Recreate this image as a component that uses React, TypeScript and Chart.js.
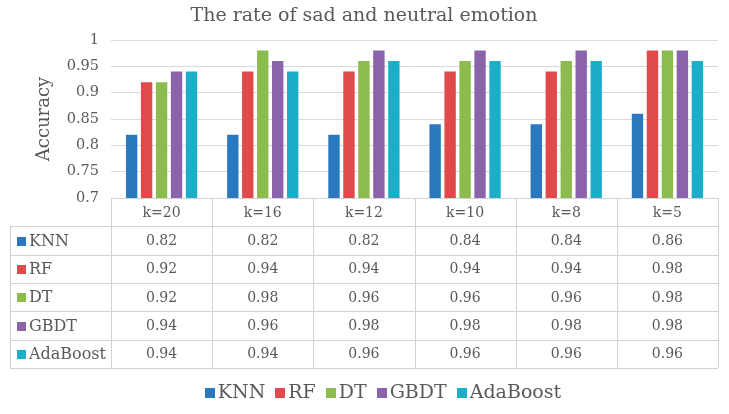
import { useEffect, useRef } from "react";
import { Chart, registerables } from "chart.js";

Chart.register(...registerables);

const categories = ["k=20", "k=16", "k=12", "k=10", "k=8", "k=5"];
const seriesNames = ["KNN", "RF", "DT", "GBDT", "AdaBoost"];
const knnValues = [0.82, 0.82, 0.82, 0.84, 0.84, 0.86];
const rfValues = [0.92, 0.94, 0.94, 0.94, 0.94, 0.98];
const dtValues = [0.92, 0.98, 0.96, 0.96, 0.96, 0.98];
const gbdtValues = [0.94, 0.96, 0.98, 0.98, 0.98, 0.98];
const adaValues = [0.94, 0.94, 0.96, 0.96, 0.96, 0.96];
const yTickValues = [0.7, 0.75, 0.8, 0.85, 0.9, 0.95, 1];
const seriesColors = ["#2B78BE", "#E04A4A", "#8CBB4E", "#8A63AA", "#1CAEC8"];

const FONT = "'DejaVu Serif', serif";
const TEXT = "#595959";
const LINE = "#d2d2d2";

const tablePlugin = {
  id: "dataTable",
  afterDraw(chart: any) {
    const ctx = chart.ctx as CanvasRenderingContext2D;
    const xs = chart.scales.x;
    const area = chart.chartArea;
    const top = area.bottom;
    const bottom = xs.bottom;
    const nRows = chart.data.datasets.length + 1;
    const rowH = (bottom - top) / nRows;
    const left = area.left;
    const right = area.right;
    const labelLeft = 10;
    const n = chart.data.labels.length;
    const colW = (right - left) / n;
    const px = (v: number) => Math.round(v) + 0.5;

    ctx.save();
    ctx.strokeStyle = LINE;
    ctx.lineWidth = 1;
    ctx.beginPath();
    ctx.moveTo(left, px(top));
    ctx.lineTo(right, px(top));
    for (let r = 1; r <= nRows; r++) {
      const y = px(top + r * rowH);
      ctx.moveTo(labelLeft, y);
      ctx.lineTo(right, y);
    }
    for (let c = 0; c <= n; c++) {
      const x = px(left + c * colW);
      ctx.moveTo(x, top);
      ctx.lineTo(x, bottom);
    }
    ctx.moveTo(px(labelLeft), top + rowH);
    ctx.lineTo(px(labelLeft), bottom);
    ctx.stroke();

    ctx.textBaseline = "middle";
    ctx.fillStyle = TEXT;
    ctx.textAlign = "center";
    ctx.font = `14px ${FONT}`;
    (chart.data.labels as string[]).forEach((lab, i) => {
      const cx = xs.getPixelForValue(i);
      ctx.fillText(lab, cx, top + rowH / 2 + 1);
    });
    chart.data.datasets.forEach((ds: any, r: number) => {
      const cy = top + (r + 1) * rowH + rowH / 2 + 1;
      ctx.textAlign = "center";
      ctx.font = `14px ${FONT}`;
      ctx.fillStyle = TEXT;
      ds.data.forEach((v: number, i: number) => {
        ctx.fillText(v.toFixed(2), xs.getPixelForValue(i), cy);
      });
      ctx.fillStyle = ds.backgroundColor;
      ctx.fillRect(17, Math.round(cy - 5), 9, 9);
      ctx.fillStyle = TEXT;
      ctx.textAlign = "left";
      ctx.font = `16px ${FONT}`;
      ctx.fillText(ds.label, 29, cy);
    });

    // legend
    ctx.font = `19px ${FONT}`;
    const box = 10;
    const gap = 3;
    const itemGap = 10;
    const widths = chart.data.datasets.map(
      (ds: any) => box + gap + ctx.measureText(ds.label).width
    );
    const total =
      widths.reduce((a: number, b: number) => a + b, 0) +
      itemGap * (widths.length - 1);
    let x = 383 - total / 2;
    const ly = 393;
    chart.data.datasets.forEach((ds: any, i: number) => {
      ctx.fillStyle = ds.backgroundColor;
      ctx.fillRect(Math.round(x), ly - 5, box, box);
      ctx.fillStyle = TEXT;
      ctx.textAlign = "left";
      ctx.fillText(ds.label, x + box + gap, ly);
      x += widths[i] + itemGap;
    });
    ctx.restore();
  },
};

export default function App() {
  const ref = useRef<HTMLCanvasElement | null>(null);
  useEffect(() => {
    if (!ref.current) return;
    const seriesValues = [knnValues, rfValues, dtValues, gbdtValues, adaValues];
    const chart = new Chart(ref.current, {
      type: "bar",
      data: {
        labels: categories,
        datasets: seriesNames.map((name, i) => ({
          label: name,
          data: seriesValues[i],
          backgroundColor: seriesColors[i],
          borderWidth: 0,
          categoryPercentage: 0.74,
          barPercentage: 0.76,
        })),
      },
      options: {
        responsive: false,
        animation: false,
        layout: { padding: { left: 10, right: 11, top: 0, bottom: 46 } },
        plugins: {
          legend: { display: false },
          tooltip: { enabled: false },
          title: {
            display: true,
            text: "The rate of sad and neutral emotion",
            color: TEXT,
            font: { family: FONT, size: 19, weight: "normal" },
            padding: { top: 4.6, bottom: 12.6 },
          },
        },
        scales: {
          x: {
            ticks: { display: false },
            grid: { display: false },
            border: { display: false },
            afterFit: (s: any) => {
              s.height = 170;
            },
          },
          y: {
            min: 0.7,
            max: 1,
            afterBuildTicks: (s: any) => {
              s.ticks = yTickValues.map((v) => ({ value: v }));
            },
            ticks: {
              color: TEXT,
              padding: 12,
              font: { family: FONT, size: 14.5 },
              callback: (v: any) => String(Number(v)),
            },
            grid: { color: "#d9d9d9", drawTicks: false },
            border: { display: false },
            title: {
              display: true,
              text: "Accuracy",
              color: TEXT,
              font: { family: FONT, size: 18 },
              padding: { top: 24, bottom: 0 },
            },
            afterFit: (s: any) => {
              s.width = 101;
            },
          },
        },
      },
      plugins: [tablePlugin],
    });
    return () => chart.destroy();
  }, []);
  return (
    <div style={{ position: "fixed", left: 0, top: 0, width: 729, height: 414, background: "#fff" }}>
      <canvas ref={ref} width={729} height={414} />
    </div>
  );
}
